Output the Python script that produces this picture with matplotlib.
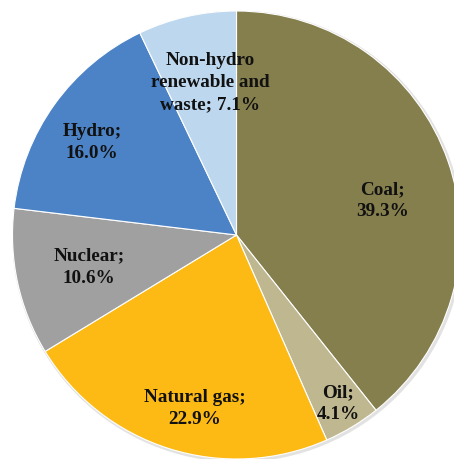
import matplotlib
matplotlib.use("Agg")
import matplotlib.pyplot as plt
from matplotlib.patches import Circle
import numpy as np

categories = ["Coal", "Oil", "Natural gas", "Nuclear", "Hydro", "Non-hydro\nrenewable and\nwaste"]
values = [39.3, 4.1, 22.9, 10.6, 16.0, 7.1]
label_texts = ["Coal;\n39.3%", "Oil;\n4.1%", "Natural gas;\n22.9%", "Nuclear;\n10.6%",
               "Hydro;\n16.0%", "Non-hydro\nrenewable and\nwaste; 7.1%"]
colors = ["#857F4E", "#BEB78F", "#FDBA15", "#A0A0A0", "#4C83C6", "#BDD7EE"]
label_dist = [0.67, 0.88, 0.795, 0.675, 0.765, 0.69]
label_angle_shift = [-6, 0, 4, 0, 3, -3]

W, H = 454, 459
fig = plt.figure(figsize=(W / 100, H / 100), dpi=100)
cx, cy, r = 236.5, 235.0, 224.0
ax = fig.add_axes([(cx - r) / W, (H - cy - r) / H, 2 * r / W, 2 * r / H])
ax.add_patch(Circle((0.006, -0.006), 1.008, facecolor="#e2e2e2", edgecolor="none", zorder=0))
wedges, _ = ax.pie(values, colors=colors, startangle=90, counterclock=False,
                   wedgeprops=dict(edgecolor="white", linewidth=0.8, zorder=1))
ax.set_xlim(-1, 1)
ax.set_ylim(-1, 1)
ax.set_axis_off()

for w, txt, d, sh in zip(wedges, label_texts, label_dist, label_angle_shift):
    ang = np.deg2rad((w.theta1 + w.theta2) / 2 + sh)
    ax.text(d * np.cos(ang), d * np.sin(ang), txt, ha="center", va="center",
            family="Liberation Serif", fontweight="bold", fontsize=13.8,
            color="#111111", linespacing=1.38, zorder=3)

fig.savefig("out.png", dpi=100)
